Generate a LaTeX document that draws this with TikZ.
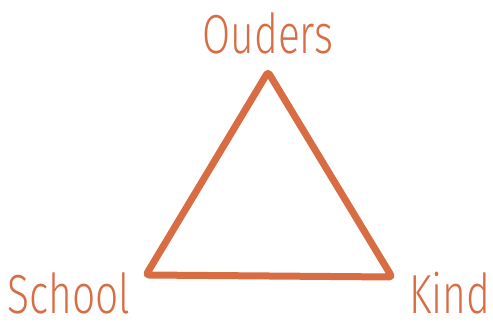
\documentclass[tikz,border=0pt]{standalone}
\usepackage{fontspec}
\setmainfont{Fira Sans Light}
\usepackage{graphicx}
\usetikzlibrary{calc,positioning}
\definecolor{driehoekoranje}{RGB}{216,108,66}

\begin{document}
\begin{tikzpicture}[x=1pt,y=-1pt,line cap=round,line join=round]
 \useasboundingbox (0,0) rectangle (493,323);
 \tikzset{hoek/.style={font=\fontsize{55}{55}\selectfont,text=driehoekoranje,anchor=base,inner sep=0pt}}
 % Hoekpunten van de driehoek.
 \coordinate (top) at (268,72);
 \coordinate (links) at (146,275);
 \coordinate (rechts) at (392,277);
 \draw[driehoekoranje,line width=7pt,rounded corners=3pt]
  (top)--(rechts)--(links)--cycle;
 % Namen bij de hoeken.
 \node[hoek] (ouders) at (268,54) {\scalebox{.74}[1]{Ouders}};
 \node[hoek] (school) at (69,313) {\scalebox{.74}[1]{School}};
 \node[hoek] (kind) at (450,313) {\scalebox{.74}[1]{Kind}};
\end{tikzpicture}
\end{document}
